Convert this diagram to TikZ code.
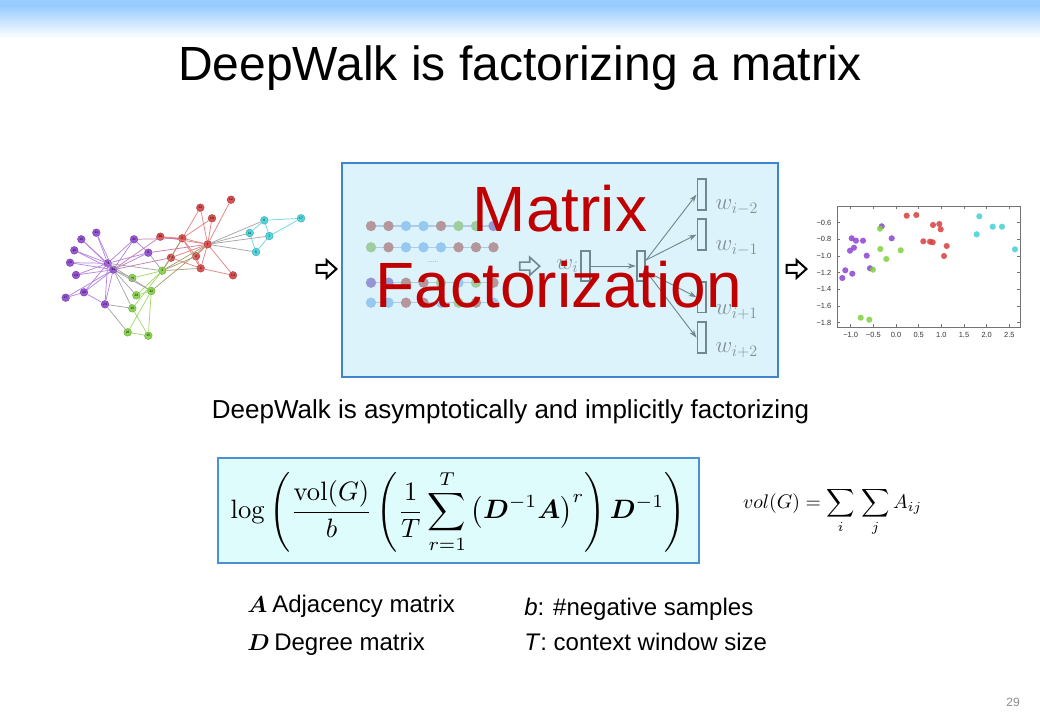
\documentclass[tikz,border=0pt]{standalone}
\usepackage[no-math]{fontspec}
\setmainfont{Liberation Sans}
\usepackage{amsmath,bm,graphicx}
\usetikzlibrary{arrows.meta,calc}
\definecolor{hdr}{RGB}{153,204,255}
\definecolor{boxfill}{RGB}{221,243,252}
\definecolor{boxline}{RGB}{62,133,205}
\definecolor{fboxfill}{RGB}{223,252,252}
\definecolor{fboxline}{RGB}{74,144,210}
\definecolor{mfred}{RGB}{192,0,0}
\definecolor{nngray}{RGB}{112,136,144}
\definecolor{wgray}{RGB}{127,144,150}
\definecolor{cP}{RGB}{141,68,210}
\definecolor{cR}{RGB}{214,64,64}
\definecolor{cC}{RGB}{64,208,216}
\definecolor{cG}{RGB}{128,208,64}
\definecolor{dBr}{RGB}{181,150,155}
\definecolor{dBl}{RGB}{150,200,240}
\definecolor{dGr}{RGB}{160,205,160}
\definecolor{dPu}{RGB}{150,150,210}
\definecolor{dLn}{RGB}{175,205,235}
\begin{document}
\begin{tikzpicture}[x=0.75pt,y=-0.75pt,
  gnode/.style={circle,inner sep=0pt,minimum size=5.8pt,line width=0.25pt,font=\fontsize{2.4}{3}\selectfont},
  edge/.style={line width=0.55pt},
  eP/.style={edge,draw=cP!65},
  eR/.style={edge,draw=cR!65},
  eC/.style={edge,draw=cC!80},
  eG/.style={edge,draw=cG!75},
  eRG/.style={edge,draw=cR!45!cG!80!black!70},
  ePR/.style={edge,draw=cP!50!cR!70},
  eX/.style={edge,draw=black!35},
  sdot/.style={circle,inner sep=0pt,minimum size=4.6pt,fill opacity=0.85},
  tick/.style={font=\fontsize{5.6}{6}\selectfont,text=black!80},
  nnbox/.style={draw=nngray,line width=1.3pt,minimum width=6.5pt,minimum height=23pt,inner sep=0pt},
  nnarrow/.style={draw=nngray,line width=0.7pt,-{Stealth[length=6pt,width=4pt]}},
  wlab/.style={text=wgray,font=\fontsize{18.5}{20}\selectfont},
  barrow/.pic={\draw[pic actions] (-10,-4) -- (0,-4) -- (0,-9) -- (10,0) -- (0,9) -- (0,4) -- (-10,4) -- cycle;}
]
\useasboundingbox (0,0) rectangle (1040,720);
\fill[white] (0,0) rectangle (1040,720);
% header gradient
\fill[hdr] (0,0) rectangle (1040,6);
\shade[top color=hdr,bottom color=white] (0,6) rectangle (1040,38);

% title
\node[anchor=base,font=\fontsize{36}{40}\selectfont] (title) at (520,81) {DeepWalk is factorizing a matrix};

% ---------- karate graph ----------
\foreach \n/\x/\y/\c in {
 12/231/199.7/cR, 22/200.3/207.7/cR, 18/212/218.3/cR, 6/264.3/220.3/cC, 17/301/218.3/cC,
 11/249.7/233/cC, 7/269.3/236/cC, 5/256/252/cC, 1/207.7/244.3/cR, 2/182.3/238.3/cR,
 20/160.3/236.7/cR, 31/134/239.3/cP, 21/96.3/232.7/cP, 15/81.3/239.3/cP, 16/74.3/250.3/cP,
 23/70/262.7/cP, 19/76/275/cP, 27/65.7/297.7/cP, 30/84/292.3/cP, 33/107.7/263.3/cP,
 34/113.3/269.7/cP, 9/148.3/252.7/cP, 14/171/257.7/cR, 8/196/256.3/cR, 4/200.7/268.3/cR,
 13/233/275.3/cR, 3/162.3/270.7/cG, 10/132.3/278/cG, 32/151.3/291/cG, 29/136.3/295.3/cG,
 24/105/304.3/cP, 28/132.3/308.3/cG, 26/127.7/332.3/cG, 25/148.3/335.7/cG}
 {\node[gnode,fill=\c!90,draw=\c!75!black] (g\n) at (\x,\y) {\n};}
\foreach \a/\b in {1/2,1/4,1/8,1/12,1/13,1/14,1/18,1/20,1/22,2/4,2/8,2/14,2/18,2/20,2/22,4/8,4/13,4/14}
 {\draw[eR] (g\a) -- (g\b);}
\foreach \a/\b in {5/7,5/11,6/7,6/11,6/17,7/17}
 {\draw[eC] (g\a) -- (g\b);}
\foreach \a/\b in {9/31,9/33,9/34,15/33,15/34,16/33,16/34,19/33,19/34,21/33,21/34,23/33,23/34,24/30,24/33,24/34,27/30,27/34,30/33,30/34,31/33,31/34,33/34}
 {\draw[eP] (g\a) -- (g\b);}
\foreach \a/\b in {3/10,3/28,3/29,25/26,25/28,25/32,26/32,29/32}
 {\draw[eG] (g\a) -- (g\b);}
\foreach \a/\b in {1/3,1/32,2/3,3/4,3/8,3/14}
 {\draw[eRG] (g\a) -- (g\b);}
\foreach \a/\b in {1/9,2/31,14/34,20/34}
 {\draw[ePR] (g\a) -- (g\b);}
\foreach \a/\b in {3/9,3/33,10/34,24/26,24/28,28/34,29/34,32/33,32/34,1/5,1/6,1/7,1/11}
 {\draw[eX] (g\a) -- (g\b);}

% block arrows
\pic[draw=black,line width=1.5pt] at (326.5,269) {barrow};
\pic[draw=black,line width=1.5pt] at (796.5,269) {barrow};

% ---------- middle box ----------
\node[draw=boxline,fill=boxfill,line width=1.5pt,minimum width=327pt,minimum height=160.5pt,inner sep=0pt] (mbox) at (560,270) {};
% walk rows
\foreach \yy in {226,247.3,282.7,302.7} {\draw[dLn,line width=0.8pt] (371,\yy) -- (493.5,\yy);}
\foreach \c [count=\i from 0] in {dBr,dBr,dBl,dBl,dBr,dGr,dGr,dPu} {\fill[\c] (371+\i*17.5,226) circle (5.2);}
\foreach \c [count=\i from 0] in {dGr,dBr,dBl,dBl,dBl,dBr,dBr,dBr} {\fill[\c] (371+\i*17.5,247.3) circle (5.2);}
\foreach \c [count=\i from 0] in {dPu,dPu,dBr,dBr,dGr,dBl,dGr,dBr} {\fill[\c] (371+\i*17.5,282.7) circle (5.2);}
\foreach \c [count=\i from 0] in {dBl,dBl,dBr,dBr,dBl,dGr,dBr,dBl} {\fill[\c] (371+\i*17.5,302.7) circle (5.2);}
\node[text=wgray,font=\fontsize{5}{6}\selectfont] (dots) at (433,262) {......};
\pic[draw=nngray,line width=1.2pt] at (529.7,266.2) {barrow};
% skip-gram network
\node[nnbox] (r1) at (585.3,266) {};
\node[nnbox] (r2) at (641,266) {};
\node[nnbox] (o1) at (701.7,194.5) {};
\node[nnbox] (o2) at (701.7,234.5) {};
\node[nnbox] (o3) at (701.7,297.2) {};
\node[nnbox] (o4) at (701.7,337.7) {};
\node[wlab,anchor=east,inner sep=1pt] (wi) at (r1.west) {$w_i$};
\draw[nnarrow] (r1.east) -- (r2.west);
\draw[nnarrow] ([yshift=4.5pt]r2.east) -- (o1.west);
\draw[nnarrow] ([yshift=4.5pt]r2.east) -- (o2.west);
\draw[nnarrow] ([yshift=-4pt]r2.east) -- (o3.west);
\draw[nnarrow] ([yshift=-4pt]r2.east) -- (o4.west);
\node[wlab,anchor=west] (w1) at (711,207) {$w_{i-2}$};
\node[wlab,anchor=west] (w2) at (711,248) {$w_{i-1}$};
\node[wlab,anchor=west] (w3) at (711,312) {$w_{i+1}$};
\node[wlab,anchor=west] (w4) at (711,350) {$w_{i+2}$};
\node[anchor=base,text=mfred,font=\fontsize{48}{50}\selectfont] (mtx) at (560,232) {Matrix};
\node[anchor=base,text=mfred,font=\fontsize{48}{50}\selectfont] (fct) at (559,308) {Factorization};

% ---------- scatter plot ----------
\draw[black!55,line width=0.6pt] (837.3,206) rectangle (1020,327.2);
\foreach \xx/\lab in {850.7/−1.0,873.3/−0.5,896/0.0,918.7/0.5,941.3/1.0,964/1.5,986.7/2.0,1009.3/2.5}
 {\draw[black!55,line width=0.4pt] (\xx,327.2) -- (\xx,324.2) (\xx,206) -- (\xx,209);
  \node[tick,anchor=north] at (\xx,327.5) {\lab};}
\foreach \yy/\lab in {222.7/−0.6,239.3/−0.8,256/−1.0,272.7/−1.2,289.3/−1.4,306/−1.6,322.7/−1.8}
 {\draw[black!55,line width=0.4pt] (837.3,\yy) -- (840.3,\yy) (1020,\yy) -- (1017,\yy);
  \node[tick,anchor=east] at (836,\yy) {\lab};}
\foreach \x/\y in {906.7/215.7,916.3/215,933/225,939.3/224,940.7/229.3,923.3/241.3,930/241.7,932.7/242.3,946.7/246,944/256}
 {\node[sdot,fill=cR] at (\x,\y) {};}
\foreach \x/\y in {979.3/216.3,992.7/226.7,1002/226.7,976.7/234.3,1015/249.3}
 {\node[sdot,fill=cC] at (\x,\y) {};}
\foreach \x/\y in {881.7/226.3,891.7/238.3,851.7/238.3,856/240.7,863/240.7,854/247.7,850/250.7,866.7/255.7,870/268.3,845.3/270.3,852.3/273.7,842.3/278}
 {\node[sdot,fill=cP] at (\x,\y) {};}
\foreach \x/\y in {880/228.7,880.3/249,900.7/250.3,886.3/259,873/269.7,860.7/317.7,869.3/319.7}
 {\node[sdot,fill=cG] at (\x,\y) {};}

% subtitle
\node[anchor=base,font=\fontsize{19.5}{22}\selectfont] (sub) at (510.5,419) {DeepWalk is asymptotically and implicitly factorizing};

% formula box
\node[draw=fboxline,fill=fboxfill,line width=1pt,minimum width=360.75pt,minimum height=78.75pt,inner sep=0pt] (fbox) at (458.5,510.5) {};
\node (formula) at (458,511.5) {\resizebox{341pt}{!}{$\displaystyle \log\left(\frac{\mathrm{vol}(G)}{b}\left(\frac{1}{T}\sum_{r=1}^{T}\big(\bm{D}^{-1}\bm{A}\big)^{r}\right)\bm{D}^{-1}\right)$}};
\node (volg) at (832.5,512) {\resizebox{134pt}{!}{$\displaystyle vol(G)=\sum_{i}\,\sum_{j}A_{ij}$}};

% legend
\node[anchor=base west,font=\fontsize{18}{20}\selectfont,inner sep=0pt] (sA) at (247,612) {$\bm{A}$};
\node[anchor=base west,font=\fontsize{18}{20}\selectfont,inner sep=0pt] (lA) at (272,612) {Adjacency matrix};
\node[anchor=base west,font=\fontsize{18}{20}\selectfont,inner sep=0pt] (sD) at (247,650) {$\bm{D}$};
\node[anchor=base west,font=\fontsize{18}{20}\selectfont,inner sep=0pt] (lD) at (274,650) {Degree matrix};
\node[anchor=base west,font=\fontsize{18}{20}\selectfont,inner sep=0pt] (lb) at (524,615) {\textit{b}: \#negative samples};
\node[anchor=base west,font=\fontsize{18}{20}\selectfont,inner sep=0pt] (lT) at (524,650) {\textit{T}: context window size};

% page number
\node[text=black!45,font=\fontsize{9}{10}\selectfont] (pg) at (1013,702) {29};
\end{tikzpicture}
\end{document}
